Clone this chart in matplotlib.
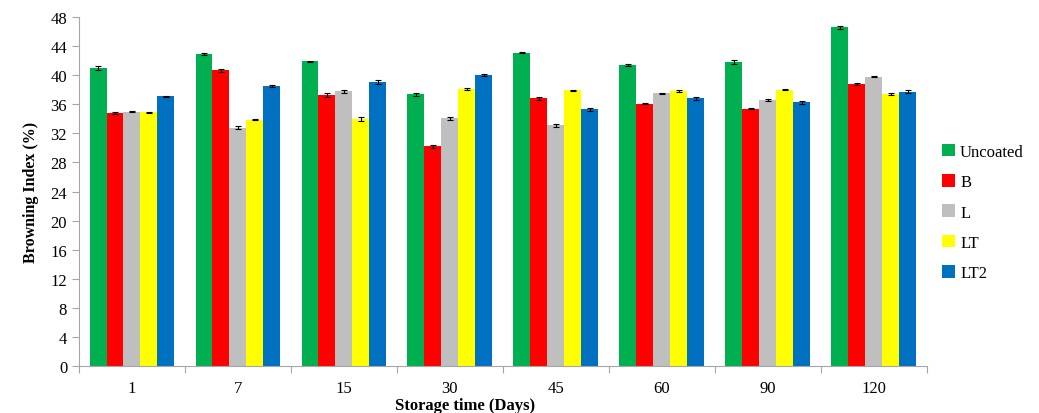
import numpy as np
import matplotlib.pyplot as plt

days = ['1', '7', '15', '30', '45', '60', '90', '120']
series = ['Uncoated', 'B', 'L', 'LT', 'LT2']
colors = ['#00B050', '#FF0000', '#BFBFBF', '#FFFF00', '#0070C0']

uncoated = [41.0, 42.9, 41.9, 37.4, 43.1, 41.4, 41.8, 46.6]
b_vals = [34.8, 40.7, 37.3, 30.2, 36.8, 36.1, 35.4, 38.8]
l_vals = [35.0, 32.8, 37.8, 34.1, 33.1, 37.5, 36.6, 39.8]
lt_vals = [34.9, 33.9, 34.0, 38.1, 37.9, 37.8, 38.0, 37.4]
lt2_vals = [37.1, 38.5, 39.1, 40.0, 35.3, 36.8, 36.3, 37.7]

uncoated_err = [0.25, 0.15, 0.1, 0.2, 0.1, 0.2, 0.25, 0.2]
b_err = [0.1, 0.2, 0.25, 0.15, 0.15, 0.1, 0.1, 0.1]
l_err = [0.1, 0.25, 0.2, 0.2, 0.2, 0.1, 0.1, 0.1]
lt_err = [0.1, 0.1, 0.3, 0.2, 0.1, 0.1, 0.1, 0.1]
lt2_err = [0.1, 0.1, 0.25, 0.15, 0.2, 0.25, 0.2, 0.2]

values = [uncoated, b_vals, l_vals, lt_vals, lt2_vals]
errors = [uncoated_err, b_err, l_err, lt_err, lt2_err]

plt.rcParams['font.family'] = ['Liberation Serif', 'DejaVu Serif']

fig = plt.figure(figsize=(10.39, 4.14), dpi=100)
ax = fig.add_axes([0.076, 0.1135, 0.816, 0.843])

x = np.arange(len(days))
w = 0.16
for j, (name, vals, err, c) in enumerate(zip(series, values, errors, colors)):
    ax.bar(x + (j - 2) * w, vals, w, color=c, label=name,
           yerr=err, capsize=2.5, error_kw=dict(ecolor='black', elinewidth=0.8, capthick=0.8),
           edgecolor='none', zorder=2)

ax.set_xlim(-0.5, len(days) - 0.5)
ax.set_ylim(0, 48)
ax.set_yticks(np.arange(0, 49, 4))
ax.set_xticks(np.arange(-0.5, len(days), 1))
ax.set_xticklabels([])
ax.set_xticks(x, minor=True)
ax.set_xticklabels(days, minor=True)
ax.tick_params(axis='x', which='major', length=5, color='#A6A6A6', direction='out')
ax.tick_params(axis='x', which='minor', length=0, labelsize=12, pad=10)
ax.tick_params(axis='y', length=5, color='#A6A6A6', labelsize=12)

for s in ['top', 'right']:
    ax.spines[s].set_visible(False)
for s in ['left', 'bottom']:
    ax.spines[s].set_color('#A6A6A6')

ax.set_ylabel('Browning Index (%)', fontsize=11.5, fontweight='bold', labelpad=8)
ax.set_xlabel('Storage time (Days)', fontsize=12, fontweight='bold')
ax.xaxis.set_label_coords(0.455, -0.088)

ax.legend(loc='center left', bbox_to_anchor=(1.0, 0.44), frameon=False, fontsize=12,
          handlelength=0.8, handleheight=0.8, handletextpad=0.3, labelspacing=0.85)

plt.savefig('out.png', dpi=100)
